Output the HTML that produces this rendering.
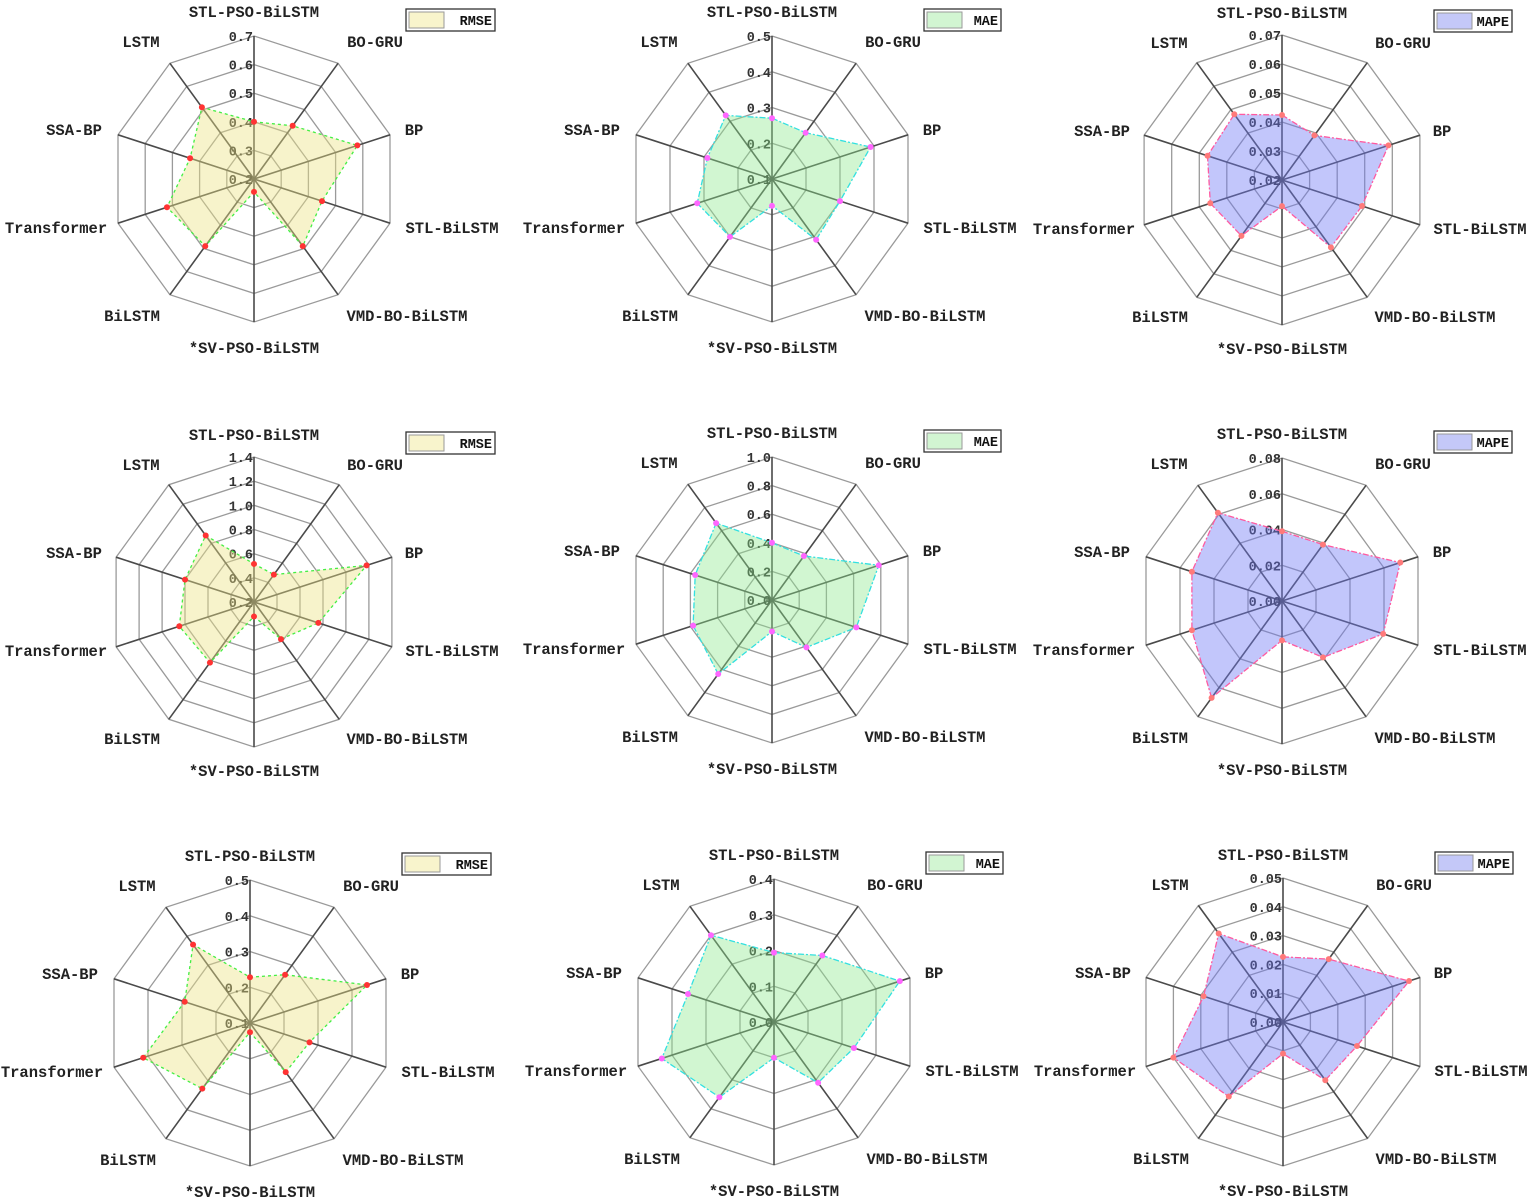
<!DOCTYPE html>
<html><head><meta charset="utf-8">
<style>
html,body{margin:0;padding:0;background:#fff;}
svg{display:block;}
text{font-family:"Liberation Mono","Noto Sans CJK SC",monospace;font-weight:bold;}
</style></head>
<body>
<svg id="fig" width="1535" height="1204" viewBox="0 0 1535 1204" xmlns="http://www.w3.org/2000/svg"></svg>
<script>
// categories (clockwise from top)
const categories = ["STL-PSO-BiLSTM","BO-GRU","BP","STL-BiLSTM","VMD-BO-BiLSTM","*SV-PSO-BiLSTM","BiLSTM","Transformer","SSA-BP","LSTM"];
// series values per panel
const rmse1 = [0.40,0.43,0.58,0.45,0.49,0.245,0.49,0.52,0.435,0.51];
const mae1  = [0.27,0.26,0.39,0.30,0.31,0.175,0.30,0.32,0.29,0.32];
const mape1 = [0.0424,0.039,0.0586,0.049,0.0487,0.029,0.0438,0.046,0.047,0.048];
const rmse2 = [0.515,0.48,1.18,0.76,0.58,0.32,0.82,0.85,0.80,0.88];
const mae2  = [0.40,0.38,0.785,0.62,0.41,0.22,0.64,0.58,0.565,0.665];
const mape2 = [0.039,0.039,0.0696,0.0595,0.039,0.022,0.067,0.053,0.053,0.061];
const rmse3 = [0.228,0.267,0.444,0.275,0.27,0.126,0.327,0.414,0.292,0.371];
const mae3  = [0.194,0.23,0.37,0.235,0.21,0.10,0.26,0.33,0.253,0.30];
const mape3 = [0.0226,0.027,0.046,0.027,0.025,0.011,0.032,0.040,0.029,0.038];
// tick labels per panel (center to outer ring)
const ticksRmse1 = ["0.2","0.3","0.4","0.5","0.6","0.7"];
const ticksMae1  = ["0.1","0.2","0.3","0.4","0.5"];
const ticksMape1 = ["0.02","0.03","0.04","0.05","0.06","0.07"];
const ticksRmse2 = ["0.2","0.4","0.6","0.8","1.0","1.2","1.4"];
const ticksMae2  = ["0.0","0.2","0.4","0.6","0.8","1.0"];
const ticksMape2 = ["0.00","0.02","0.04","0.06","0.08"];
const ticksRmse3 = ["0.1","0.2","0.3","0.4","0.5"];
const ticksMae3  = ["0.0","0.1","0.2","0.3","0.4"];
const ticksMape3 = ["0.00","0.01","0.02","0.03","0.04","0.05"];

const NS="http://www.w3.org/2000/svg";
const svg=document.getElementById('fig');
function mk(tag,attrs,parent){const e=document.createElementNS(NS,tag);for(const k in attrs)e.setAttribute(k,attrs[k]);(parent||svg).appendChild(e);return e;}

const styles={
 RMSE:{fill:"rgba(236,226,130,0.42)",stroke:"#44ee44",dash:"3,3",mark:"#ff3333",legend:"#f8f4cc",lw:89},
 MAE:{fill:"rgba(140,232,140,0.40)",stroke:"#33e0e0",dash:"6,2,2,2",mark:"#ff66ff",legend:"#d2f5d2",lw:77},
 MAPE:{fill:"rgba(110,120,245,0.42)",stroke:"#ff5aa0",dash:"6,2,2,2",mark:"#ff7a7a",legend:"#c4c8f8",lw:78}
};
const labelOff=[[0,-167],[121,-137],[160,-49],[198,49],[153,137],[0,169],[-122,137],[-198,49],[-180,-49],[-113,-137]];

function panel(id,cx,cy,R,kind,values,ticks){
  const st=styles[kind];
  const g=mk('g',{});
  
  
  const n=categories.length, rings=ticks.length-1;
  const vmin=parseFloat(ticks[0]), vmax=parseFloat(ticks[ticks.length-1]);
  const ang=i=>i*2*Math.PI/n;
  const pt=(i,r)=>[cx+r*Math.sin(ang(i)),cy-r*Math.cos(ang(i))];
  const rScale=v=>(v-vmin)/(vmax-vmin)*R;
  // rings
  for(let k=1;k<=rings;k++){
    const r=R*k/rings;
    const pts=categories.map((c,i)=>pt(i,r).map(x=>x.toFixed(1)).join(',')).join(' ');
    const ring=mk('polygon',{points:pts,fill:'none',stroke:'#9a9a9a','stroke-width':1.3},g);
    
    
  }
  // axes
  categories.forEach((c,i)=>{
    const p=pt(i,R);
    const ax=mk('line',{x1:cx,y1:cy,x2:p[0],y2:p[1],stroke:'#4a4a4a','stroke-width':1.6},g);
    
    
    const o=labelOff[i];
    const t=mk('text',{x:cx+o[0],y:cy+o[1]+5,'font-size':15.5,'text-anchor':'middle',fill:'#222'},g);
    t.textContent=c;
    
    
  });
  // tick labels
  ticks.forEach((tk,k)=>{
    const y=cy-R*k/rings;
    const t=mk('text',{x:cx-1,y:y+5,'font-size':13.5,'text-anchor':'end',fill:'#333'},g);
    t.textContent=tk;
    
    
  });
  // series polygon
  const spts=values.map((v,i)=>pt(i,rScale(v)));
  const poly=mk('polygon',{points:spts.map(p=>p[0].toFixed(1)+','+p[1].toFixed(1)).join(' '),fill:st.fill,stroke:st.stroke,'stroke-width':1.3,'stroke-dasharray':st.dash},g);
  
  
  spts.forEach(p=>{
    const m=mk('circle',{cx:p[0],cy:p[1],r:3,fill:st.mark},g);
    
    
  });
  // legend
  const lx=cx+152, ly=cy-170;
  const lg=mk('g',{},g);
  
  
  mk('rect',{x:lx,y:ly,width:st.lw,height:22,fill:'#fff',stroke:'#333','stroke-width':1.3},lg);
  mk('rect',{x:lx+3,y:ly+3,width:35,height:16,fill:st.legend,stroke:'#999','stroke-width':1},lg);
  const lt=mk('text',{x:lx+st.lw-3,y:ly+16,'font-size':13.5,'text-anchor':'end',fill:'#111'},lg);
  lt.textContent=kind;
  
  
}
panel('radar-rmse-1',254,179,143,'RMSE',rmse1,ticksRmse1);
panel('radar-mae-1',772,179,143,'MAE',mae1,ticksMae1);
panel('radar-mape-1',1282,180,145,'MAPE',mape1,ticksMape1);
panel('radar-rmse-2',254,602,145,'RMSE',rmse2,ticksRmse2);
panel('radar-mae-2',772,600,143,'MAE',mae2,ticksMae2);
panel('radar-mape-2',1282,601,143,'MAPE',mape2,ticksMape2);
panel('radar-rmse-3',250,1023,143,'RMSE',rmse3,ticksRmse3);
panel('radar-mae-3',774,1022,143,'MAE',mae3,ticksMae3);
panel('radar-mape-3',1283,1022,144,'MAPE',mape3,ticksMape3);
</script>
</body></html>
